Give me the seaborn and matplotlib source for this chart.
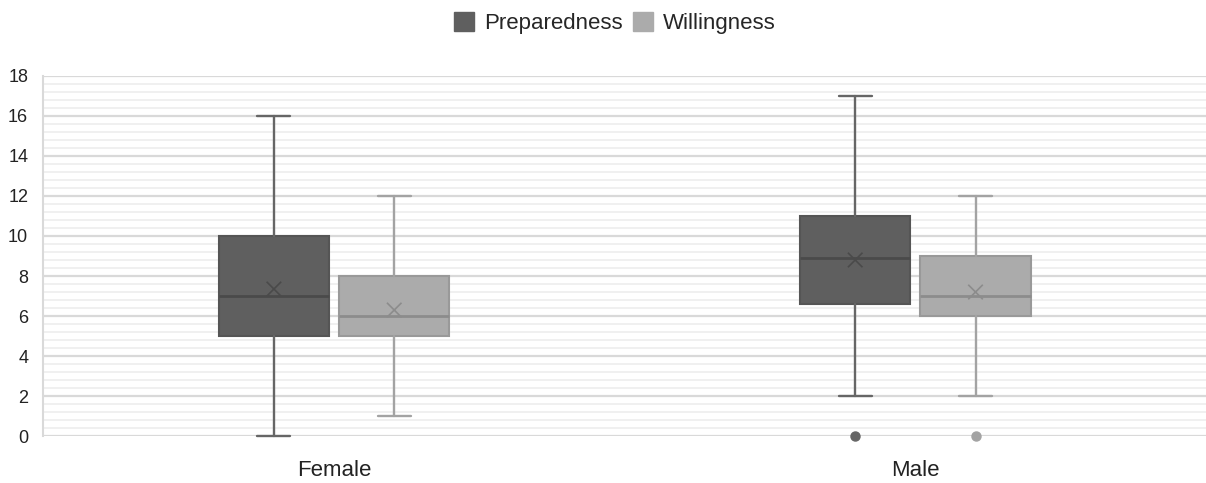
import numpy as np
import pandas as pd
import matplotlib.pyplot as plt
from matplotlib.patches import Patch
from matplotlib.ticker import MultipleLocator
import seaborn as sns

sns.set_theme(style='white')
plt.rcParams['font.family'] = ['Liberation Sans', 'DejaVu Sans']

# --- data (per gender: [Preparedness, Willingness]) ---
genders = ['Female', 'Male']
measures = ['Preparedness', 'Willingness']
whisker_low = [[0, 1], [2, 2]]
q1 = [[5, 5], [6.6, 6]]
median = [[7, 6], [8.9, 7]]
q3 = [[10, 8], [11, 9]]
whisker_high = [[16, 12], [17, 12]]
means = [[7.35, 6.3], [8.8, 7.2]]
outliers = [[[], []], [[0], [0]]]

# --- styling ---
fill = ['#5f5f5f', '#ababab']
edge = ['#555555', '#999999']
line = ['#666666', '#a3a3a3']
med_col = ['#4a4a4a', '#8c8c8c']
offset = 0.1035
box_w = 0.19

fig = plt.figure(figsize=(12.06, 4.83), dpi=100)
ax = fig.add_axes([0.036, 0.097, 0.964, 0.746])

rows = []
for j, m in enumerate(measures):
    stats = []
    pos = []
    for i, g in enumerate(genders):
        stats.append(dict(label=g, whislo=whisker_low[i][j], q1=q1[i][j],
                          med=median[i][j], q3=q3[i][j], whishi=whisker_high[i][j],
                          mean=means[i][j], fliers=outliers[i][j]))
        pos.append(i + (2 * j - 1) * offset)
        rows.append({'pos': pos[-1], 'mean': means[i][j], 'measure': m})
    parts = ax.bxp(stats, positions=pos, widths=box_w, patch_artist=True,
                   showmeans=False, showfliers=True, capwidths=box_w * 0.3,
                   manage_ticks=False,
                   boxprops=dict(facecolor=fill[j], edgecolor=edge[j], linewidth=1.5),
                   whiskerprops=dict(color=line[j], linewidth=1.7),
                   capprops=dict(color=line[j], linewidth=1.7),
                   medianprops=dict(color=med_col[j], linewidth=2),
                   flierprops=dict(marker='o', markerfacecolor=line[j],
                                   markeredgecolor=line[j], markersize=6.5))
    for arts in parts.values():
        for a in arts:
            a.set_clip_on(False)

# mean markers
mean_df = pd.DataFrame(rows)
sns.scatterplot(data=mean_df, x='pos', y='mean', hue='measure',
                palette=dict(zip(measures, med_col)), marker='x', s=110,
                linewidth=1.2, legend=False, ax=ax, zorder=5)

ax.set_xlim(-0.5, 1.5)
ax.set_ylim(0, 18)
ax.set_xticks(range(len(genders)))
ax.set_xticklabels(genders, fontsize=16, color='#222222')
ax.yaxis.set_major_locator(MultipleLocator(2))
ax.yaxis.set_minor_locator(MultipleLocator(0.4))
ax.tick_params(axis='y', which='both', length=0, pad=11, labelsize=13, labelcolor='#222222')
ax.tick_params(axis='x', length=0, pad=17)
ax.set_xlabel('')
ax.set_ylabel('')
ax.grid(True, axis='y', which='major', color='#d9d9d9', linewidth=1.6)
ax.grid(True, axis='y', which='minor', color='#eeeeee', linewidth=1.2)
ax.set_axisbelow(True)
for s in ['top', 'right', 'bottom']:
    ax.spines[s].set_visible(False)
ax.spines['left'].set_color('#d9d9d9')
ax.spines['left'].set_linewidth(1.5)

handles = [Patch(facecolor=fill[k], edgecolor=fill[k], label=measures[k]) for k in range(2)]
fig.legend(handles=handles, loc='center', bbox_to_anchor=(0.51, 0.952), ncol=2,
           frameon=False, fontsize=16, handlelength=0.9, handleheight=0.9,
           handletextpad=0.45, columnspacing=0.45)

plt.savefig('out.png', dpi=100)
